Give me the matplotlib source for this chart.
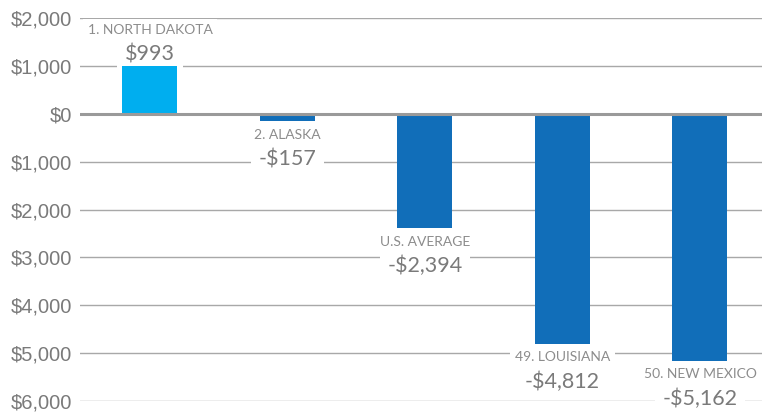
import matplotlib
matplotlib.use("Agg")
import matplotlib.pyplot as plt

states = ["1. NORTH DAKOTA", "2. ALASKA", "U.S. AVERAGE", "49. LOUISIANA", "50. NEW MEXICO"]
values = [993, -157, -2394, -4812, -5162]
bar_colors = ["#00aeef", "#116eb9", "#116eb9", "#116eb9", "#116eb9"]
yticks = [2000, 1000, 0, -1000, -2000, -3000, -4000, -5000, -6000]

fig = plt.figure(figsize=(7.62, 4.12), dpi=100)
ax = fig.add_axes([80 / 762, 1 - 401 / 412, 1 - 80 / 762, (401 - 18) / 412])

xs = range(len(values))
ax.bar(xs, values, width=0.4, color=bar_colors, zorder=3)

# gridlines drawn under the label boxes so the boxes cut them
for t in yticks:
    if t == 0:
        ax.axhline(0, color="#9a9a9a", lw=2.2, zorder=4)
    else:
        ax.axhline(t, color="#a8a8a8", lw=1, zorder=1)

ax.set_xlim(-0.509, 4.451)
ax.set_ylim(-6000, 2000)
ax.set_yticks(yticks)
ax.set_yticklabels([f"${abs(t):,}" for t in yticks], family="Liberation Sans",
                   fontsize=14.5, color="#7a7a7a")
ax.tick_params(axis="y", length=0, pad=6)
ax.set_xticks([])
for s in ax.spines.values():
    s.set_visible(False)

box = dict(boxstyle="square,pad=0.35", fc="white", ec="none")
for i, (name, v) in enumerate(zip(states, values)):
    if v > 0:
        name_off, val_off = 23, 4.3
    else:
        name_off, val_off = -12.5, -31.5
    ax.annotate(name, xy=(i, v), xytext=(0, name_off), textcoords="offset points",
                ha="center", va="baseline", family="Lato", fontsize=10,
                color="#8c8c8c", bbox=box, zorder=2)
    label = f"${v:,}" if v > 0 else f"-${abs(v):,}"
    ax.annotate(label, xy=(i, v), xytext=(0, val_off), textcoords="offset points",
                ha="center", va="baseline", family="Lato",
                fontsize=15.5, color="#7a7a7a", bbox=box, zorder=2)

fig.savefig("out.png", dpi=100)
